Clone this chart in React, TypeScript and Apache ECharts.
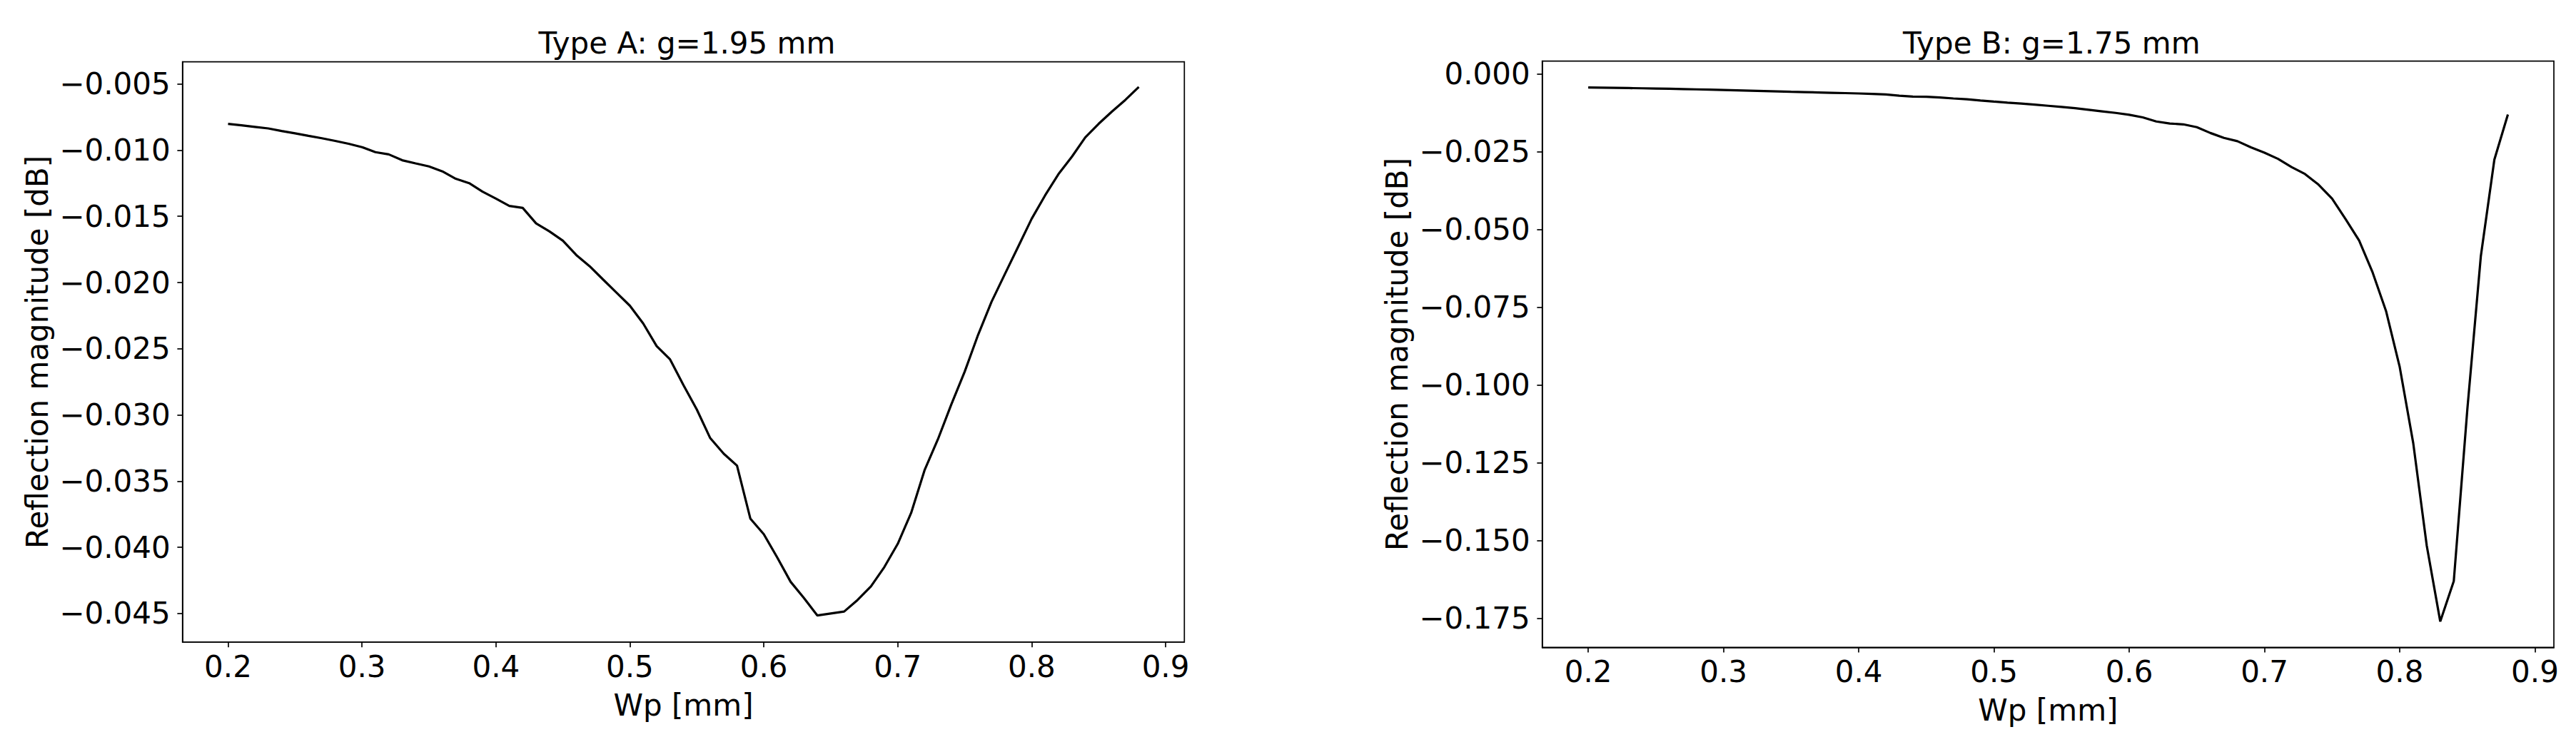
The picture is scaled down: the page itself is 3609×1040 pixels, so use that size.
import React, { useEffect, useRef } from "react";
import * as echarts from "echarts";

const wp = [
  0.2, 0.21, 0.22, 0.23, 0.24, 0.25, 0.26, 0.27, 0.28, 0.29,
  0.3, 0.31, 0.32, 0.33, 0.34, 0.35, 0.36, 0.37, 0.38, 0.39,
  0.4, 0.41, 0.42, 0.43, 0.44, 0.45, 0.46, 0.47, 0.48, 0.49,
  0.5, 0.51, 0.52, 0.53, 0.54, 0.55, 0.56, 0.57, 0.58, 0.59,
  0.6, 0.61, 0.62, 0.63, 0.64, 0.65, 0.66, 0.67, 0.68, 0.69,
  0.7, 0.71, 0.72, 0.73, 0.74, 0.75, 0.76, 0.77, 0.78, 0.79,
  0.8, 0.81, 0.82, 0.83, 0.84, 0.85, 0.86, 0.87, 0.88,
];

const typeA = [
  -0.00801, -0.00812, -0.00824, -0.00836, -0.00855, -0.00873, -0.00892, -0.0091, -0.0093, -0.00952,
  -0.00977, -0.01015, -0.01032, -0.01076, -0.011, -0.01123, -0.0116, -0.01216, -0.01249, -0.01313,
  -0.01366, -0.01421, -0.01436, -0.01553, -0.01614, -0.01684, -0.01792, -0.01877, -0.01977, -0.02076,
  -0.02175, -0.0231, -0.0248, -0.0258, -0.02775, -0.02959, -0.03175, -0.03292, -0.03383, -0.03784,
  -0.03901, -0.04076, -0.0426, -0.04383, -0.04515, -0.045, -0.04485, -0.04398, -0.04295, -0.04149,
  -0.03974, -0.0374, -0.03418, -0.03184, -0.02921, -0.02673, -0.02395, -0.02146, -0.01936, -0.01728,
  -0.01518, -0.01342, -0.01181, -0.0105, -0.00904, -0.00801, -0.00708, -0.0062, -0.00523,
];

const typeB = [
  -0.00445, -0.0045, -0.00456, -0.00462, -0.00469, -0.00476, -0.00485, -0.00494, -0.00503, -0.00513,
  -0.00523, -0.00534, -0.00545, -0.00556, -0.00568, -0.0058, -0.00591, -0.00602, -0.00613, -0.00624,
  -0.00635, -0.0065, -0.00668, -0.00705, -0.00735, -0.0074, -0.00765, -0.00795, -0.0082, -0.0086,
  -0.00897, -0.0093, -0.0096, -0.00995, -0.0103, -0.0107, -0.0111, -0.0116, -0.0121, -0.0126,
  -0.0132, -0.01404, -0.01536, -0.01602, -0.01628, -0.0172, -0.01905, -0.02063, -0.02169, -0.02367,
  -0.02539, -0.02736, -0.03, -0.03224, -0.03567, -0.04016, -0.04675, -0.05361, -0.06391, -0.07644,
  -0.09425, -0.1187, -0.1517, -0.1761, -0.1631, -0.108, -0.05864, -0.02764, -0.01313,
];

const xTicks = [0.2, 0.3, 0.4, 0.5, 0.6, 0.7, 0.8, 0.9];
const yTicksA = [-0.045, -0.04, -0.035, -0.03, -0.025, -0.02, -0.015, -0.01, -0.005];
const yTicksB = [-0.175, -0.15, -0.125, -0.1, -0.075, -0.05, -0.025, 0];

const titles = ["Type A: g=1.95 mm", "Type B: g=1.75 mm"];
const xName = "Wp [mm]";
const yName = "Reflection magnitude [dB]";

const FONT = "DejaVu Sans";
const FS = 42;

const fmtY = (v: number) => {
  const s = Math.abs(v).toFixed(3);
  return (v < -1e-9 ? "\u2212" : "") + s;
};
const fmtX = (v: number) => v.toFixed(1);

export default function App() {
  const ref = useRef<HTMLDivElement>(null);
  useEffect(() => {
    if (!ref.current) return;
    const chart = echarts.init(ref.current, undefined, { renderer: "svg" });
    const grids = [
      { left: 255.7, top: 86.7, width: 1403.6, height: 813.3 },
      { left: 2160.7, top: 85.7, width: 1417.3, height: 821.6 },
    ];
    const yRanges = [
      [-0.04716, -0.00333],
      [-0.1844, 0.00404],
    ];
    const yTicks = [yTicksA, yTicksB];
    const textStyle = { fontFamily: FONT, fontSize: FS, color: "#000" };
    const option: any = {
      animation: false,
      backgroundColor: "#fff",
      title: titles.map((t, i) => ({
        text: t,
        left: grids[i].left + grids[i].width / 2,
        top: 34,
        textAlign: "center",
        textStyle: { ...textStyle, fontWeight: "normal" },
      })),
      grid: grids.map((g) => ({
        ...g,
        show: true,
        borderColor: "#000",
        borderWidth: 1.7,
        backgroundColor: "transparent",
        containLabel: false,
      })),
      xAxis: grids.map((g, i) => ({
        type: "value",
        gridIndex: i,
        min: 0.166,
        max: 0.914,
        name: xName,
        nameLocation: "middle",
        nameGap: 67,
        nameTextStyle: textStyle,
        axisLine: { show: true, onZero: false, lineStyle: { color: "#000", width: 1.7 } },
        axisTick: {
          show: true,
          length: 7.3,
          inside: false,
          lineStyle: { color: "#000", width: 1.7 },
          customValues: xTicks,
        },
        axisLabel: {
          ...textStyle,
          margin: 13,
          formatter: fmtX,
          customValues: xTicks,
          showMinLabel: true,
          showMaxLabel: true,
        },
        splitLine: { show: false },
      })),
      yAxis: grids.map((g, i) => ({
        type: "value",
        gridIndex: i,
        min: yRanges[i][0],
        max: yRanges[i][1],
        name: yName,
        nameLocation: "middle",
        nameGap: 182,
        nameRotate: 90,
        nameTextStyle: textStyle,
        axisLine: { show: true, onZero: false, lineStyle: { color: "#000", width: 1.7 } },
        axisTick: {
          show: true,
          length: 7.3,
          inside: false,
          lineStyle: { color: "#000", width: 1.7 },
          customValues: yTicks[i],
        },
        axisLabel: {
          ...textStyle,
          margin: 17,
          formatter: fmtY,
          customValues: yTicks[i],
        },
        splitLine: { show: false },
      })),
      series: [typeA, typeB].map((vals, i) => ({
        type: "line",
        xAxisIndex: i,
        yAxisIndex: i,
        data: wp.map((x, k) => [x, vals[k]]),
        showSymbol: false,
        symbol: "none",
        lineStyle: { color: "#000", width: 3.2 },
        silent: true,
      })),
    };
    chart.setOption(option);
    return () => chart.dispose();
  }, []);
  return (
    <div
      ref={ref}
      style={{ position: "fixed", left: 0, top: 0, width: 3609, height: 1040, background: "#fff" }}
    />
  );
}
